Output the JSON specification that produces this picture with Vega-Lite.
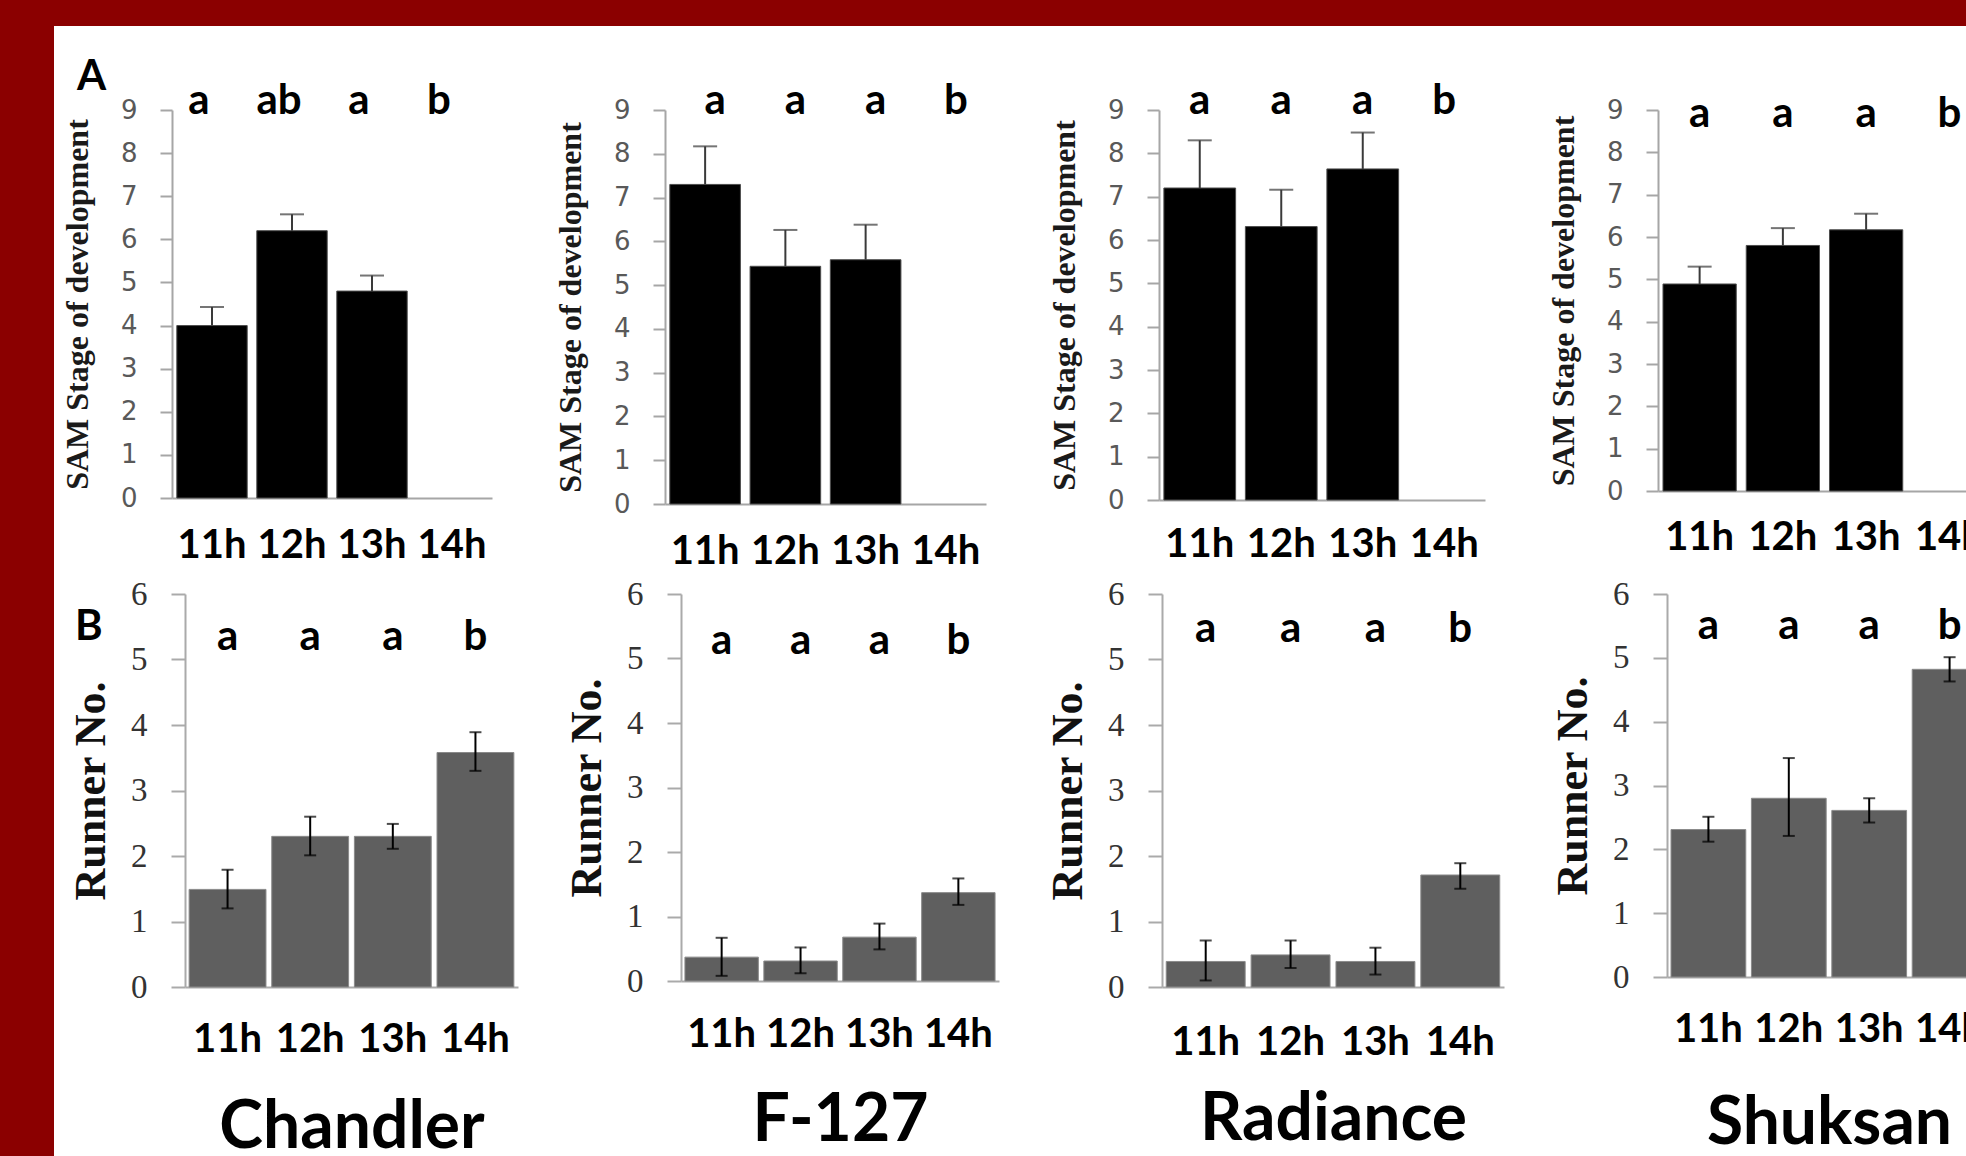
{
"$schema": "https://vega.github.io/schema/vega-lite/v6.json",
"background": "white",
"padding": 0,
"spacing": 0,
"config": {"view": {"stroke": null}, "font": "Lato", "axis": {"grid": false}},
"datasets": {"d": [
{"cv":"Chandler","m":"A","t":"11h","mean":4.0,"lo":4.0,"hi":4.43,"letter":"a"},
{"cv":"Chandler","m":"A","t":"12h","mean":6.2,"lo":6.2,"hi":6.58,"letter":"ab"},
{"cv":"Chandler","m":"A","t":"13h","mean":4.8,"lo":4.8,"hi":5.16,"letter":"a"},
{"cv":"Chandler","m":"A","t":"14h","mean":null,"lo":null,"hi":null,"letter":"b"},
{"cv":"F-127","m":"A","t":"11h","mean":7.3,"lo":7.3,"hi":8.17,"letter":"a"},
{"cv":"F-127","m":"A","t":"12h","mean":5.43,"lo":5.43,"hi":6.26,"letter":"a"},
{"cv":"F-127","m":"A","t":"13h","mean":5.58,"lo":5.58,"hi":6.38,"letter":"a"},
{"cv":"F-127","m":"A","t":"14h","mean":null,"lo":null,"hi":null,"letter":"b"},
{"cv":"Radiance","m":"A","t":"11h","mean":7.2,"lo":7.2,"hi":8.3,"letter":"a"},
{"cv":"Radiance","m":"A","t":"12h","mean":6.31,"lo":6.31,"hi":7.16,"letter":"a"},
{"cv":"Radiance","m":"A","t":"13h","mean":7.64,"lo":7.64,"hi":8.48,"letter":"a"},
{"cv":"Radiance","m":"A","t":"14h","mean":null,"lo":null,"hi":null,"letter":"b"},
{"cv":"Shuksan","m":"A","t":"11h","mean":4.89,"lo":4.89,"hi":5.3,"letter":"a"},
{"cv":"Shuksan","m":"A","t":"12h","mean":5.8,"lo":5.8,"hi":6.21,"letter":"a"},
{"cv":"Shuksan","m":"A","t":"13h","mean":6.17,"lo":6.17,"hi":6.55,"letter":"a"},
{"cv":"Shuksan","m":"A","t":"14h","mean":null,"lo":null,"hi":null,"letter":"b"},
{"cv":"Chandler","m":"B","t":"11h","mean":1.49,"lo":1.2,"hi":1.79,"letter":"a"},
{"cv":"Chandler","m":"B","t":"12h","mean":2.3,"lo":2.01,"hi":2.6,"letter":"a"},
{"cv":"Chandler","m":"B","t":"13h","mean":2.3,"lo":2.11,"hi":2.49,"letter":"a"},
{"cv":"Chandler","m":"B","t":"14h","mean":3.58,"lo":3.3,"hi":3.89,"letter":"b"},
{"cv":"F-127","m":"B","t":"11h","mean":0.37,"lo":0.08,"hi":0.67,"letter":"a"},
{"cv":"F-127","m":"B","t":"12h","mean":0.31,"lo":0.12,"hi":0.52,"letter":"a"},
{"cv":"F-127","m":"B","t":"13h","mean":0.68,"lo":0.49,"hi":0.89,"letter":"a"},
{"cv":"F-127","m":"B","t":"14h","mean":1.37,"lo":1.18,"hi":1.59,"letter":"b"},
{"cv":"Radiance","m":"B","t":"11h","mean":0.39,"lo":0.1,"hi":0.71,"letter":"a"},
{"cv":"Radiance","m":"B","t":"12h","mean":0.49,"lo":0.29,"hi":0.71,"letter":"a"},
{"cv":"Radiance","m":"B","t":"13h","mean":0.39,"lo":0.19,"hi":0.6,"letter":"a"},
{"cv":"Radiance","m":"B","t":"14h","mean":1.71,"lo":1.5,"hi":1.89,"letter":"b"},
{"cv":"Shuksan","m":"B","t":"11h","mean":2.31,"lo":2.12,"hi":2.51,"letter":"a"},
{"cv":"Shuksan","m":"B","t":"12h","mean":2.8,"lo":2.21,"hi":3.43,"letter":"a"},
{"cv":"Shuksan","m":"B","t":"13h","mean":2.61,"lo":2.42,"hi":2.8,"letter":"a"},
{"cv":"Shuksan","m":"B","t":"14h","mean":4.82,"lo":4.63,"hi":5.01,"letter":"b"}
]},
"hconcat": [
{"width": 54, "height": 1160, "data": {"values": []}, "mark": "point", "view": {"fill": "#8b0000", "stroke": null}},
{"spacing": 0, "vconcat": [
 {"width": 1912, "height": 26, "data": {"values": []}, "mark": "point", "view": {"fill": "#8b0000", "stroke": null}},
 {"width": 1, "height": 30, "data": {"values": []}, "mark": "point"},
 {"spacing": 6, "hconcat": [
  {"width": 1, "height": 1, "data": {"values": []}, "mark": "point"},
  {"spacing": 173, "bounds": "flush", "hconcat": [
   {"width": 320, "height": 388,
    "title": {"text": "A", "anchor": "start", "frame": "group", "baseline": "alphabetic", "dx": -95, "dy": 52, "offset": 0, "font": "Lato", "fontSize": 42, "fontWeight": "bold", "color": "#000"},
    "data": {"name": "d"},
    "transform": [{"filter": "datum.cv == 'Chandler' && datum.m == 'A'"}],
    "encoding": {"x": {"field": "t", "type": "nominal", "scale": {"domain": ["11h","12h","13h","14h"], "paddingInner": 0.12, "paddingOuter": 0.06}, "axis": {"title": null, "labelAngle": 0, "ticks": false, "tickSize": 0, "labelPadding": 27, "labelFont": "Lato", "labelFontWeight": "bold", "labelFontSize": 40, "labelColor": "#000", "domainColor": "#a6a6a6", "domainWidth": 2}}},
    "layer": [
     {"mark": {"type": "bar", "fill": "#000", "stroke": "#4d4d4d", "strokeWidth": 1}, "encoding": {"y": {"field": "mean", "type": "quantitative", "title": "SAM Stage of development", "scale": {"domain": [0, 9], "nice": false}, "axis": {"title": "SAM Stage of development", "titleFont": "Liberation Serif", "titleFontWeight": "bold", "titleFontSize": 32, "titleColor": "#1a1a1a", "titlePadding": 26, "values": [0,1,2,3,4,5,6,7,8,9], "labelFont": "DejaVu Sans", "labelFontSize": 26, "labelColor": "#595959", "labelPadding": 23, "tickSize": 12, "tickColor": "#a6a6a6", "tickWidth": 2, "domainColor": "#a6a6a6", "domainWidth": 2}}}},
     {"mark": {"type": "rule", "color": "#3a3a3a", "strokeWidth": 2}, "encoding": {"y": {"field": "lo", "type": "quantitative", "title": "SAM Stage of development"}, "y2": {"field": "hi"}}},
     {"mark": {"type": "tick", "color": "#3a3a3a", "thickness": 2, "size": 24}, "encoding": {"y": {"field": "hi", "type": "quantitative", "title": "SAM Stage of development"}}},
     {"mark": {"type": "text", "font": "Lato", "fontWeight": "bold", "fontSize": 42, "baseline": "alphabetic", "color": "#000", "dx": -13}, "encoding": {"text": {"field": "letter"}, "y": {"datum": 8.9, "type": "quantitative", "title": "SAM Stage of development"}}}
    ]},
   {"width": 321, "height": 394,
    "data": {"name": "d"},
    "transform": [{"filter": "datum.cv == 'F-127' && datum.m == 'A'"}],
    "encoding": {"x": {"field": "t", "type": "nominal", "scale": {"domain": ["11h","12h","13h","14h"], "paddingInner": 0.12, "paddingOuter": 0.06}, "axis": {"title": null, "labelAngle": 0, "ticks": false, "tickSize": 0, "labelPadding": 27, "labelFont": "Lato", "labelFontWeight": "bold", "labelFontSize": 40, "labelColor": "#000", "domainColor": "#a6a6a6", "domainWidth": 2}}},
    "layer": [
     {"mark": {"type": "bar", "fill": "#000", "stroke": "#4d4d4d", "strokeWidth": 1}, "encoding": {"y": {"field": "mean", "type": "quantitative", "title": "SAM Stage of development", "scale": {"domain": [0, 9], "nice": false}, "axis": {"title": "SAM Stage of development", "titleFont": "Liberation Serif", "titleFontWeight": "bold", "titleFontSize": 32, "titleColor": "#1a1a1a", "titlePadding": 26, "values": [0,1,2,3,4,5,6,7,8,9], "labelFont": "DejaVu Sans", "labelFontSize": 26, "labelColor": "#595959", "labelPadding": 23, "tickSize": 12, "tickColor": "#a6a6a6", "tickWidth": 2, "domainColor": "#a6a6a6", "domainWidth": 2}}}},
     {"mark": {"type": "rule", "color": "#3a3a3a", "strokeWidth": 2}, "encoding": {"y": {"field": "lo", "type": "quantitative", "title": "SAM Stage of development"}, "y2": {"field": "hi"}}},
     {"mark": {"type": "tick", "color": "#3a3a3a", "thickness": 2, "size": 24}, "encoding": {"y": {"field": "hi", "type": "quantitative", "title": "SAM Stage of development"}}},
     {"mark": {"type": "text", "font": "Lato", "fontWeight": "bold", "fontSize": 42, "baseline": "alphabetic", "color": "#000", "dx": 10}, "encoding": {"text": {"field": "letter"}, "y": {"datum": 8.9, "type": "quantitative", "title": "SAM Stage of development"}}}
    ]},
   {"width": 326, "height": 390,
    "data": {"name": "d"},
    "transform": [{"filter": "datum.cv == 'Radiance' && datum.m == 'A'"}],
    "encoding": {"x": {"field": "t", "type": "nominal", "scale": {"domain": ["11h","12h","13h","14h"], "paddingInner": 0.12, "paddingOuter": 0.06}, "axis": {"title": null, "labelAngle": 0, "ticks": false, "tickSize": 0, "labelPadding": 24, "labelFont": "Lato", "labelFontWeight": "bold", "labelFontSize": 40, "labelColor": "#000", "domainColor": "#a6a6a6", "domainWidth": 2}}},
    "layer": [
     {"mark": {"type": "bar", "fill": "#000", "stroke": "#4d4d4d", "strokeWidth": 1}, "encoding": {"y": {"field": "mean", "type": "quantitative", "title": "SAM Stage of development", "scale": {"domain": [0, 9], "nice": false}, "axis": {"title": "SAM Stage of development", "titleFont": "Liberation Serif", "titleFontWeight": "bold", "titleFontSize": 32, "titleColor": "#1a1a1a", "titlePadding": 26, "values": [0,1,2,3,4,5,6,7,8,9], "labelFont": "DejaVu Sans", "labelFontSize": 26, "labelColor": "#595959", "labelPadding": 23, "tickSize": 12, "tickColor": "#a6a6a6", "tickWidth": 2, "domainColor": "#a6a6a6", "domainWidth": 2}}}},
     {"mark": {"type": "rule", "color": "#3a3a3a", "strokeWidth": 2}, "encoding": {"y": {"field": "lo", "type": "quantitative", "title": "SAM Stage of development"}, "y2": {"field": "hi"}}},
     {"mark": {"type": "tick", "color": "#3a3a3a", "thickness": 2, "size": 24}, "encoding": {"y": {"field": "hi", "type": "quantitative", "title": "SAM Stage of development"}}},
     {"mark": {"type": "text", "font": "Lato", "fontWeight": "bold", "fontSize": 42, "baseline": "alphabetic", "color": "#000"}, "encoding": {"text": {"field": "letter"}, "y": {"datum": 8.9, "type": "quantitative", "title": "SAM Stage of development"}}}
    ]},
   {"width": 333, "height": 381,
    "data": {"name": "d"},
    "transform": [{"filter": "datum.cv == 'Shuksan' && datum.m == 'A'"}],
    "encoding": {"x": {"field": "t", "type": "nominal", "scale": {"domain": ["11h","12h","13h","14h"], "paddingInner": 0.12, "paddingOuter": 0.06}, "axis": {"title": null, "labelAngle": 0, "ticks": false, "tickSize": 0, "labelPadding": 26, "labelFont": "Lato", "labelFontWeight": "bold", "labelFontSize": 40, "labelColor": "#000", "domainColor": "#a6a6a6", "domainWidth": 2}}},
    "layer": [
     {"mark": {"type": "bar", "fill": "#000", "stroke": "#4d4d4d", "strokeWidth": 1}, "encoding": {"y": {"field": "mean", "type": "quantitative", "title": "SAM Stage of development", "scale": {"domain": [0, 9], "nice": false}, "axis": {"title": "SAM Stage of development", "titleFont": "Liberation Serif", "titleFontWeight": "bold", "titleFontSize": 32, "titleColor": "#1a1a1a", "titlePadding": 26, "values": [0,1,2,3,4,5,6,7,8,9], "labelFont": "DejaVu Sans", "labelFontSize": 26, "labelColor": "#595959", "labelPadding": 23, "tickSize": 12, "tickColor": "#a6a6a6", "tickWidth": 2, "domainColor": "#a6a6a6", "domainWidth": 2}}}},
     {"mark": {"type": "rule", "color": "#3a3a3a", "strokeWidth": 2}, "encoding": {"y": {"field": "lo", "type": "quantitative", "title": "SAM Stage of development"}, "y2": {"field": "hi"}}},
     {"mark": {"type": "tick", "color": "#3a3a3a", "thickness": 2, "size": 24}, "encoding": {"y": {"field": "hi", "type": "quantitative", "title": "SAM Stage of development"}}},
     {"mark": {"type": "text", "font": "Lato", "fontWeight": "bold", "fontSize": 42, "baseline": "alphabetic", "color": "#000"}, "encoding": {"text": {"field": "letter"}, "y": {"datum": 8.6, "type": "quantitative", "title": "SAM Stage of development"}}}
    ]}
  ]}
 ]},
 {"width": 1, "height": 7, "data": {"values": []}, "mark": "point"},
 {"spacing": 14, "hconcat": [
  {"width": 1, "height": 1, "data": {"values": []}, "mark": "point"},
  {"spacing": 163, "bounds": "flush", "hconcat": [
   {"width": 333, "height": 393,
    "title": {"text": "B", "anchor": "start", "frame": "group", "baseline": "alphabetic", "dx": -110, "dy": 104, "offset": 0, "font": "Lato", "fontSize": 42, "fontWeight": "bold", "color": "#000"},
    "data": {"name": "d"},
    "transform": [{"filter": "datum.cv == 'Chandler' && datum.m == 'B'"}],
    "encoding": {"x": {"field": "t", "type": "nominal", "scale": {"domain": ["11h","12h","13h","14h"], "paddingInner": 0.07, "paddingOuter": 0.05}, "axis": {"title": "Chandler", "titleFont": "Lato", "titleFontWeight": "bold", "titleFontSize": 66, "titleColor": "#000", "titlePadding": 36, "labelAngle": 0, "ticks": false, "tickSize": 0, "labelPadding": 32, "labelFont": "Lato", "labelFontWeight": "bold", "labelFontSize": 40, "labelColor": "#000", "domainColor": "#aaaaaa", "domainWidth": 2}}},
    "layer": [
     {"mark": {"type": "bar", "fill": "#5f5f5f", "stroke": "#8a8a8a", "strokeWidth": 1}, "encoding": {"y": {"field": "mean", "type": "quantitative", "title": "Runner No.", "scale": {"domain": [0, 6], "nice": false}, "axis": {"title": "Runner No.", "titleFont": "Liberation Serif", "titleFontWeight": "bold", "titleFontSize": 44, "titleColor": "#111", "titlePadding": 17, "values": [0,1,2,3,4,5,6], "format": "d", "labelFont": "Liberation Serif", "labelFontSize": 33, "labelColor": "#333", "labelPadding": 24, "tickSize": 14, "tickColor": "#aaaaaa", "tickWidth": 2, "domainColor": "#aaaaaa", "domainWidth": 2}}}},
     {"mark": {"type": "rule", "color": "#000", "strokeWidth": 2}, "encoding": {"y": {"field": "lo", "type": "quantitative", "title": "Runner No."}, "y2": {"field": "hi"}}},
     {"mark": {"type": "tick", "color": "#000", "thickness": 2, "size": 12}, "encoding": {"y": {"field": "hi", "type": "quantitative", "title": "Runner No."}}},
     {"mark": {"type": "tick", "color": "#000", "thickness": 2, "size": 12}, "encoding": {"y": {"field": "lo", "type": "quantitative", "title": "Runner No."}}},
     {"mark": {"type": "text", "font": "Lato", "fontWeight": "bold", "fontSize": 42, "baseline": "alphabetic", "color": "#000"}, "encoding": {"text": {"field": "letter"}, "y": {"datum": 5.14, "type": "quantitative", "title": "Runner No."}}}
    ]},
   {"width": 318, "height": 387,
    "data": {"name": "d"},
    "transform": [{"filter": "datum.cv == 'F-127' && datum.m == 'B'"}],
    "encoding": {"x": {"field": "t", "type": "nominal", "scale": {"domain": ["11h","12h","13h","14h"], "paddingInner": 0.07, "paddingOuter": 0.05}, "axis": {"title": "F-127", "titleFont": "Lato", "titleFontWeight": "bold", "titleFontSize": 66, "titleColor": "#000", "titlePadding": 34, "labelAngle": 0, "ticks": false, "tickSize": 0, "labelPadding": 33, "labelFont": "Lato", "labelFontWeight": "bold", "labelFontSize": 40, "labelColor": "#000", "domainColor": "#aaaaaa", "domainWidth": 2}}},
    "layer": [
     {"mark": {"type": "bar", "fill": "#5f5f5f", "stroke": "#8a8a8a", "strokeWidth": 1}, "encoding": {"y": {"field": "mean", "type": "quantitative", "title": "Runner No.", "scale": {"domain": [0, 6], "nice": false}, "axis": {"title": "Runner No.", "titleFont": "Liberation Serif", "titleFontWeight": "bold", "titleFontSize": 44, "titleColor": "#111", "titlePadding": 17, "values": [0,1,2,3,4,5,6], "format": "d", "labelFont": "Liberation Serif", "labelFontSize": 33, "labelColor": "#333", "labelPadding": 24, "tickSize": 14, "tickColor": "#aaaaaa", "tickWidth": 2, "domainColor": "#aaaaaa", "domainWidth": 2}}}},
     {"mark": {"type": "rule", "color": "#000", "strokeWidth": 2}, "encoding": {"y": {"field": "lo", "type": "quantitative", "title": "Runner No."}, "y2": {"field": "hi"}}},
     {"mark": {"type": "tick", "color": "#000", "thickness": 2, "size": 12}, "encoding": {"y": {"field": "hi", "type": "quantitative", "title": "Runner No."}}},
     {"mark": {"type": "tick", "color": "#000", "thickness": 2, "size": 12}, "encoding": {"y": {"field": "lo", "type": "quantitative", "title": "Runner No."}}},
     {"mark": {"type": "text", "font": "Lato", "fontWeight": "bold", "fontSize": 42, "baseline": "alphabetic", "color": "#000"}, "encoding": {"text": {"field": "letter"}, "y": {"datum": 5.07, "type": "quantitative", "title": "Runner No."}}}
    ]},
   {"width": 342, "height": 393,
    "data": {"name": "d"},
    "transform": [{"filter": "datum.cv == 'Radiance' && datum.m == 'B'"}],
    "encoding": {"x": {"field": "t", "type": "nominal", "scale": {"domain": ["11h","12h","13h","14h"], "paddingInner": 0.07, "paddingOuter": 0.05}, "axis": {"title": "Radiance", "titleFont": "Lato", "titleFontWeight": "bold", "titleFontSize": 66, "titleColor": "#000", "titlePadding": 25, "labelAngle": 0, "ticks": false, "tickSize": 0, "labelPadding": 35, "labelFont": "Lato", "labelFontWeight": "bold", "labelFontSize": 40, "labelColor": "#000", "domainColor": "#aaaaaa", "domainWidth": 2}}},
    "layer": [
     {"mark": {"type": "bar", "fill": "#5f5f5f", "stroke": "#8a8a8a", "strokeWidth": 1}, "encoding": {"y": {"field": "mean", "type": "quantitative", "title": "Runner No.", "scale": {"domain": [0, 6], "nice": false}, "axis": {"title": "Runner No.", "titleFont": "Liberation Serif", "titleFontWeight": "bold", "titleFontSize": 44, "titleColor": "#111", "titlePadding": 17, "values": [0,1,2,3,4,5,6], "format": "d", "labelFont": "Liberation Serif", "labelFontSize": 33, "labelColor": "#333", "labelPadding": 24, "tickSize": 14, "tickColor": "#aaaaaa", "tickWidth": 2, "domainColor": "#aaaaaa", "domainWidth": 2}}}},
     {"mark": {"type": "rule", "color": "#000", "strokeWidth": 2}, "encoding": {"y": {"field": "lo", "type": "quantitative", "title": "Runner No."}, "y2": {"field": "hi"}}},
     {"mark": {"type": "tick", "color": "#000", "thickness": 2, "size": 12}, "encoding": {"y": {"field": "hi", "type": "quantitative", "title": "Runner No."}}},
     {"mark": {"type": "tick", "color": "#000", "thickness": 2, "size": 12}, "encoding": {"y": {"field": "lo", "type": "quantitative", "title": "Runner No."}}},
     {"mark": {"type": "text", "font": "Lato", "fontWeight": "bold", "fontSize": 42, "baseline": "alphabetic", "color": "#000"}, "encoding": {"text": {"field": "letter"}, "y": {"datum": 5.26, "type": "quantitative", "title": "Runner No."}}}
    ]},
   {"width": 324, "height": 383,
    "data": {"name": "d"},
    "transform": [{"filter": "datum.cv == 'Shuksan' && datum.m == 'B'"}],
    "encoding": {"x": {"field": "t", "type": "nominal", "scale": {"domain": ["11h","12h","13h","14h"], "paddingInner": 0.07, "paddingOuter": 0.05}, "axis": {"title": "Shuksan", "titleFont": "Lato", "titleFontWeight": "bold", "titleFontSize": 66, "titleColor": "#000", "titlePadding": 42, "labelAngle": 0, "ticks": false, "tickSize": 0, "labelPadding": 32, "labelFont": "Lato", "labelFontWeight": "bold", "labelFontSize": 40, "labelColor": "#000", "domainColor": "#aaaaaa", "domainWidth": 2}}},
    "layer": [
     {"mark": {"type": "bar", "fill": "#5f5f5f", "stroke": "#8a8a8a", "strokeWidth": 1}, "encoding": {"y": {"field": "mean", "type": "quantitative", "title": "Runner No.", "scale": {"domain": [0, 6], "nice": false}, "axis": {"title": "Runner No.", "titleFont": "Liberation Serif", "titleFontWeight": "bold", "titleFontSize": 44, "titleColor": "#111", "titlePadding": 17, "values": [0,1,2,3,4,5,6], "format": "d", "labelFont": "Liberation Serif", "labelFontSize": 33, "labelColor": "#333", "labelPadding": 24, "tickSize": 14, "tickColor": "#aaaaaa", "tickWidth": 2, "domainColor": "#aaaaaa", "domainWidth": 2}}}},
     {"mark": {"type": "rule", "color": "#000", "strokeWidth": 2}, "encoding": {"y": {"field": "lo", "type": "quantitative", "title": "Runner No."}, "y2": {"field": "hi"}}},
     {"mark": {"type": "tick", "color": "#000", "thickness": 2, "size": 12}, "encoding": {"y": {"field": "hi", "type": "quantitative", "title": "Runner No."}}},
     {"mark": {"type": "tick", "color": "#000", "thickness": 2, "size": 12}, "encoding": {"y": {"field": "lo", "type": "quantitative", "title": "Runner No."}}},
     {"mark": {"type": "text", "font": "Lato", "fontWeight": "bold", "fontSize": 42, "baseline": "alphabetic", "color": "#000"}, "encoding": {"text": {"field": "letter"}, "y": {"datum": 5.3, "type": "quantitative", "title": "Runner No."}}}
    ]}
  ]}
 ]}
]}
]
}
